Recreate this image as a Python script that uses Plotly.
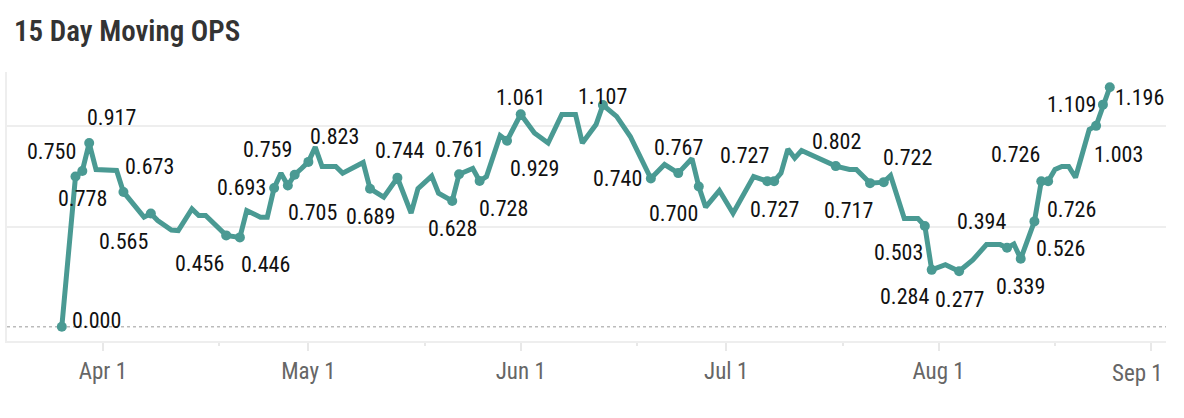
import plotly.graph_objects as go

# 15 day moving OPS, one value per day with a game
dates = [
    "2024-03-26", "2024-03-28", "2024-03-29", "2024-03-30", "2024-03-31",
    "2024-04-03", "2024-04-04", "2024-04-07", "2024-04-08", "2024-04-09",
    "2024-04-11", "2024-04-12", "2024-04-14", "2024-04-15", "2024-04-16",
    "2024-04-19", "2024-04-21", "2024-04-22", "2024-04-24", "2024-04-25",
    "2024-04-26", "2024-04-27", "2024-04-28", "2024-04-29", "2024-04-30",
    "2024-05-01", "2024-05-02", "2024-05-03", "2024-05-05", "2024-05-06",
    "2024-05-09", "2024-05-10", "2024-05-12", "2024-05-14", "2024-05-16",
    "2024-05-17", "2024-05-19", "2024-05-20", "2024-05-22", "2024-05-23",
    "2024-05-25", "2024-05-26", "2024-05-27", "2024-05-29", "2024-05-30",
    "2024-06-01", "2024-06-03", "2024-06-05", "2024-06-07", "2024-06-09",
    "2024-06-10", "2024-06-12", "2024-06-13", "2024-06-15", "2024-06-17",
    "2024-06-19", "2024-06-20", "2024-06-22", "2024-06-24", "2024-06-26",
    "2024-06-27", "2024-06-28", "2024-06-30", "2024-07-02", "2024-07-05",
    "2024-07-07", "2024-07-08", "2024-07-09", "2024-07-10", "2024-07-11",
    "2024-07-12", "2024-07-17", "2024-07-19", "2024-07-20", "2024-07-22",
    "2024-07-24", "2024-07-25", "2024-07-27", "2024-07-29", "2024-07-30",
    "2024-07-31", "2024-08-02", "2024-08-04", "2024-08-06", "2024-08-08",
    "2024-08-10", "2024-08-11", "2024-08-12", "2024-08-13", "2024-08-15",
    "2024-08-16", "2024-08-17", "2024-08-18", "2024-08-19", "2024-08-20",
    "2024-08-21", "2024-08-23", "2024-08-24", "2024-08-25", "2024-08-26",
]
ops = [
    0.000, 0.750, 0.778, 0.917, 0.785,
    0.780, 0.673, 0.547, 0.565, 0.530,
    0.483, 0.480, 0.588, 0.555, 0.555,
    0.456, 0.446, 0.580, 0.547, 0.547,
    0.693, 0.767, 0.705, 0.759, 0.790,
    0.823, 0.897, 0.800, 0.800, 0.767,
    0.820, 0.689, 0.647, 0.744, 0.567,
    0.690, 0.752, 0.667, 0.628, 0.761,
    0.790, 0.728, 0.750, 0.955, 0.929,
    1.061, 0.967, 0.917, 1.060, 1.060,
    0.917, 1.010, 1.107, 1.050, 0.950,
    0.810, 0.740, 0.810, 0.767, 0.840,
    0.700, 0.597, 0.680, 0.567, 0.750,
    0.727, 0.727, 0.767, 0.887, 0.842,
    0.880, 0.802, 0.785, 0.785, 0.717,
    0.722, 0.755, 0.540, 0.540, 0.503,
    0.284, 0.310, 0.277, 0.333, 0.410,
    0.410, 0.394, 0.413, 0.339, 0.526,
    0.726, 0.726, 0.785, 0.800, 0.800,
    0.745, 0.985, 1.003, 1.109, 1.196,
]

# days that get a dot and a value label
labelled = [
    "2024-03-26", "2024-03-28", "2024-03-29", "2024-03-30", "2024-04-04",
    "2024-04-08", "2024-04-19", "2024-04-21", "2024-04-26", "2024-04-28",
    "2024-04-29", "2024-05-01", "2024-05-10", "2024-05-14", "2024-05-22",
    "2024-05-23", "2024-05-26", "2024-05-30", "2024-06-01", "2024-06-13",
    "2024-06-20", "2024-06-24", "2024-06-27", "2024-07-07", "2024-07-08",
    "2024-07-17", "2024-07-22", "2024-07-24", "2024-07-30", "2024-07-31",
    "2024-08-04", "2024-08-11", "2024-08-13", "2024-08-15", "2024-08-16",
    "2024-08-17", "2024-08-24", "2024-08-25", "2024-08-26",
]

month_ticks = ["2024-04-01", "2024-05-01", "2024-06-01", "2024-07-01", "2024-08-01", "2024-09-01"]
month_labels = ["Apr 1", "May 1", "Jun 1", "Jul 1", "Aug 1", "Sep 1"]
mid_ticks = ["2024-04-18", "2024-05-18", "2024-06-18", "2024-07-18", "2024-08-18"]

# label placement (px right, px down) for each labelled point
label_offsets = [
    (35, -6), (-24, -25), (0, 28), (22, -26), (26, -25),
    (-27, 28), (-27, 28), (26, 27), (-33, 0), (25, 27),
    (-27, -25), (26, -25), (0, 28), (2, -27), (0, 28),
    (0, -25), (24, 28), (27, 28), (0, -17), (0, -9),
    (-33, 0), (0, -26), (-25, 27), (-23, -26), (0, 28),
    (1, -25), (-22, 27), (24, -25), (-26, 27), (-27, 27),
    (0, 28), (-26, -26), (0, 28), (26, 27), (-26, -27),
    (23, 28), (22, 29), (-31, 0), (30, 10),
]

TEAL = "#4a9a93"
FONT = "Roboto Condensed, sans-serif"

lookup = dict(zip(dates, ops))
mark_y = [lookup[d] for d in labelled]

fig = go.Figure()
fig.add_trace(go.Scatter(
    x=dates, y=ops, mode="lines",
    line=dict(color=TEAL, width=5),
    hoverinfo="skip",
))
fig.add_trace(go.Scatter(
    x=labelled, y=mark_y, mode="markers",
    marker=dict(color=TEAL, size=10, line=dict(width=0)),
    hovertemplate="%{x|%b %-d}: %{y:.3f}<extra></extra>",
    cliponaxis=False,
))

for d, v, (dx, dy) in zip(labelled, mark_y, label_offsets):
    fig.add_annotation(
        x=d, y=v, text=f"{v:.3f}", showarrow=False,
        xshift=dx, yshift=-dy,
        font=dict(family=FONT, size=22, color="#111111"),
    )

# last month label is pulled inside the plot edge
fig.add_annotation(
    x=1, xref="paper", xanchor="right", xshift=-1,
    y=0, yref="paper", yanchor="middle", yshift=-32,
    text=month_labels[-1], showarrow=False,
    font=dict(family=FONT, size=23, color="#666666"),
)

# dotted zero line
fig.add_shape(type="line", xref="paper", x0=0, x1=1, yref="y", y0=0, y1=0,
              layer="below",
              line=dict(color="#bbbbbb", width=1.5, dash="dot"))

fig.update_layout(
    width=1184, height=418,
    margin=dict(l=7, r=18, t=72, b=77),
    paper_bgcolor="white", plot_bgcolor="white",
    showlegend=False,
    title=dict(
        text="15 Day Moving OPS",
        x=14 / 1184, xref="container", xanchor="left",
        y=1 - 31 / 418, yref="container", yanchor="middle",
        font=dict(family=FONT, size=29, color="#333333", weight=600),
    ),
    xaxis=dict(
        type="date",
        range=["2024-03-18", "2024-09-03 05:00"],
        tickvals=month_ticks, ticktext=month_labels[:-1] + [""],
        ticks="outside", ticklen=8, tickcolor="#e8e8e8", tickwidth=2,
        minor=dict(tickvals=mid_ticks, ticks="outside", ticklen=3,
                   tickcolor="#e8e8e8", tickwidth=2),
        showline=True, linecolor="#eeeeee", linewidth=2,
        showgrid=False, zeroline=False,
        tickfont=dict(family=FONT, size=23, color="#666666"),
    ),
    yaxis=dict(
        range=[-0.0714, 1.272],
        tickvals=[0.5, 1.0], showticklabels=False,
        gridcolor="#eeeeee", gridwidth=2,
        zeroline=False,
        showline=True, linecolor="#eeeeee", linewidth=2,
    ),
)

fig.write_html("out.html", config={"displayModeBar": False},
               post_script="document.body.style.margin='0px';")
